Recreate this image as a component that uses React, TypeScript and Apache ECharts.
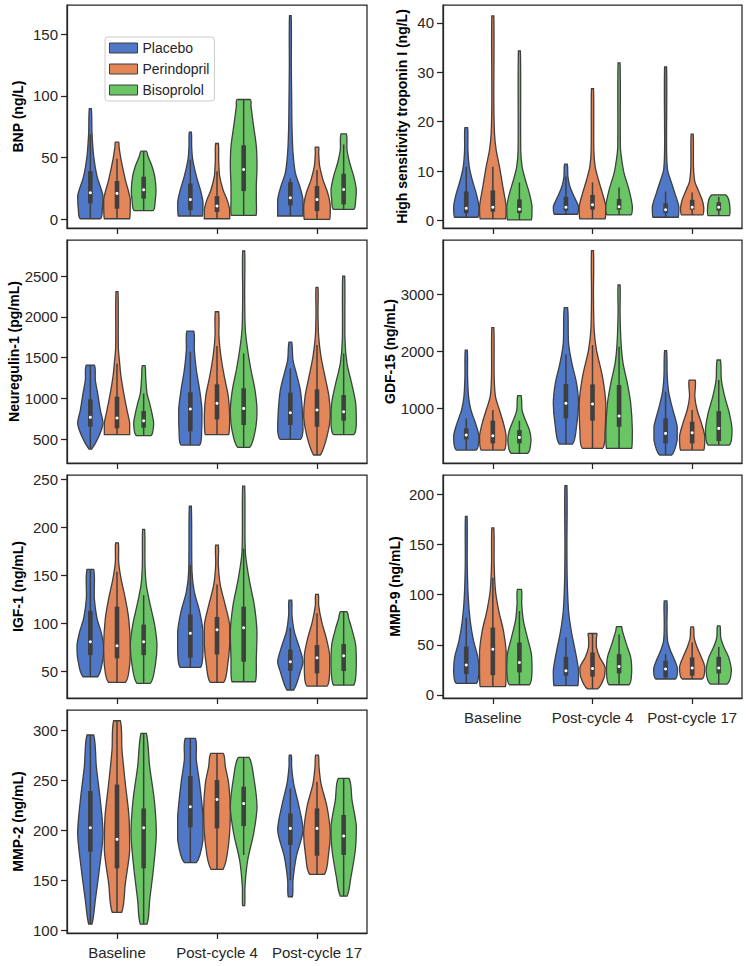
import React, { useEffect, useRef } from 'react';
import * as echarts from 'echarts';

const timepoints = ['Baseline', 'Post-cycle 4', 'Post-cycle 17'];
const treatments = ['Placebo', 'Perindopril', 'Bisoprolol'];
const treatmentColors = ['#4f78c8', '#e3865a', '#6ac665'];

// Violin outlines: [value, relative density 0..40], from data min to data max
// order: treatment -> timepoint
const bnpShapes = [
  [
    [[0.5, 30], [8, 36], [19, 38], [35, 20], [51, 10], [70, 5], [89.7, 3]],
    [[2.7, 36], [13.5, 38], [24, 30], [35, 18], [48.5, 7], [59, 4], [70.5, 3]],
    [[2.7, 38], [16, 38], [27, 28], [37.7, 15], [54, 8], [75, 5], [97, 4], [124, 3], [164.8, 2.5]],
  ],
  [
    [[0.5, 38], [16, 40], [32, 25], [48.5, 12], [59, 6], [62.5, 5]],
    [[0.5, 38], [8, 38], [16, 30], [24, 18], [35, 8], [48.5, 5], [61.4, 4]],
    [[0, 38], [10.8, 40], [21.5, 32], [32, 18], [43, 8], [54, 5], [58.4, 5]],
  ],
  [
    [[7, 28], [16, 35], [24, 37], [35, 33], [43, 25], [51, 13], [55.2, 8]],
    [[3.2, 37], [16, 38], [27, 38], [43, 40], [59, 38], [75, 30], [91.5, 22], [97, 20]],
    [[8, 30], [16, 36], [24, 38], [35, 30], [45.8, 18], [56.5, 10], [69.2, 8]],
  ],
];
// [whisker low, q1, median, q3, whisker high]
const bnpBoxes = [
  [[0.5, 12.9, 21.5, 39, 68.7], [2.7, 7.5, 16, 29, 48.5], [2.7, 11.3, 17.5, 30.2, 33]],
  [[0.5, 8.6, 21, 31, 49], [0.5, 5.9, 10.8, 18.8, 39], [0, 6.7, 16, 27, 40]],
  [[7, 16.7, 24, 34.5, 55.2], [3.2, 22.9, 40.4, 60, 97], [8, 12.1, 24.2, 36.9, 60.6]],
];

const tropShapes = [
  [
    [[0.67, 35], [2.8, 38], [5.5, 30], [8.2, 18], [10.9, 9], [14.3, 5], [18.8, 4]],
    [[1.28, 35], [2.8, 38], [4.8, 25], [6.9, 12], [8.9, 6], [11.4, 4]],
    [[0.67, 38], [2.8, 40], [5.5, 28], [8.2, 15], [10.2, 6], [14.3, 3], [31.1, 3]],
  ],
  [
    [[0.34, 38], [2.8, 40], [6.9, 30], [10.9, 20], [14.3, 10], [17.6, 5], [24.4, 3], [41.4, 3]],
    [[0.34, 38], [2.8, 40], [5.5, 30], [8.2, 18], [10.9, 8], [14.3, 4], [26.7, 3]],
    [[1.14, 32], [2.5, 35], [4.2, 30], [6.2, 18], [7.9, 8], [10.9, 4], [17.5, 3]],
  ],
  [
    [[0.13, 36], [2.8, 38], [5.5, 30], [8.2, 18], [10.9, 8], [14.3, 4], [34.3, 3]],
    [[1.14, 36], [2.8, 40], [6.2, 30], [9.6, 15], [12.3, 8], [14.9, 4], [31.9, 3]],
    [[1.0, 32], [2.2, 34], [4.2, 30], [5.2, 20]],
  ],
];
const tropBoxes = [
  [[0.67, 1.5, 2.5, 5.9, 10.9], [1.28, 2.0, 2.7, 4.8, 8.9], [0.67, 1.5, 2.2, 3.5, 5.9]],
  [[0.34, 1.8, 2.7, 6.1, 10.9], [0.34, 2.2, 3.2, 5.2, 7.7], [1.14, 2.2, 2.7, 4.2, 5.7]],
  [[0.13, 1.5, 2.3, 4.3, 7.7], [1.14, 2.2, 2.8, 4.4, 6.7], [1.0, 2.0, 2.7, 3.7, 4.8]],
];

const nrgShapes = [
  [
    [[377, 4], [529, 25], [692, 38], [856, 30], [1060, 22], [1224, 15], [1408, 12]],
    [[426, 28], [610, 34], [856, 35], [1101, 28], [1347, 18], [1592, 12], [1825, 10]],
    [[496, 30], [610, 38], [856, 36], [1101, 30], [1306, 18], [1469, 8], [1690, 4]],
  ],
  [
    [[553, 38], [692, 38], [856, 30], [1019, 22], [1265, 12], [1428, 8], [1633, 4], [2308, 3]],
    [[553, 35], [774, 38], [1019, 34], [1265, 22], [1510, 12], [1756, 6], [2062, 5]],
    [[304, 10], [529, 30], [774, 40], [1019, 36], [1265, 24], [1510, 12], [1756, 5], [2042, 3], [2361, 3]],
  ],
  [
    [[541, 22], [692, 30], [794, 26], [938, 18], [1060, 10], [1265, 6], [1400, 4]],
    [[398, 18], [610, 35], [856, 40], [1101, 34], [1347, 22], [1592, 12], [1837, 5], [2246, 3], [2807, 3]],
    [[553, 30], [692, 38], [938, 36], [1183, 24], [1428, 10], [1715, 4], [2500, 3]],
  ],
];
const nrgBoxes = [
  [[377, 651, 766, 987, 1408], [426, 594, 868, 1073, 1572], [496, 672, 823, 1069, 1367]],
  [[553, 631, 758, 1019, 1428], [553, 741, 938, 1171, 1641], [304, 651, 856, 1109, 1653]],
  [[541, 639, 725, 844, 1060], [398, 672, 876, 1122, 1551], [553, 725, 835, 1040, 1551]],
];

const gdfShapes = [
  [
    [[269, 30], [503, 38], [737, 28], [971, 14], [1205, 7], [1556, 4], [2023, 3]],
    [[374, 20], [737, 33], [1088, 38], [1439, 32], [1789, 18], [2140, 8], [2766, 5]],
    [[181, 18], [444, 35], [678, 35], [971, 22], [1263, 10], [1556, 5], [2012, 3]],
  ],
  [
    [[269, 35], [503, 40], [737, 32], [971, 20], [1205, 8], [1556, 4], [2415, 3]],
    [[298, 30], [620, 38], [1088, 40], [1556, 30], [2023, 12], [2374, 5], [2959, 3], [3766, 3]],
    [[269, 35], [503, 38], [737, 28], [971, 15], [1205, 8], [1497, 9]],
  ],
  [
    [[211, 25], [444, 35], [620, 30], [795, 18], [971, 8], [1222, 5]],
    [[298, 38], [620, 40], [1088, 35], [1439, 25], [1789, 12], [2140, 6], [2667, 3], [3164, 3]],
    [[357, 32], [620, 40], [912, 32], [1205, 18], [1497, 8], [1848, 5]],
  ],
];
const gdfBoxes = [
  [[269, 456, 532, 649, 825], [374, 825, 1088, 1427, 1947], [181, 386, 561, 825, 1292]],
  [[269, 386, 520, 784, 971], [298, 784, 1076, 1421, 2111], [269, 386, 573, 766, 971]],
  [[211, 386, 491, 620, 784], [298, 678, 865, 1409, 2082], [357, 427, 649, 953, 1497]],
];

const igfShapes = [
  [
    [[44.8, 22], [63.9, 38], [77.7, 40], [91.6, 32], [105.5, 20], [126, 12], [156.4, 10]],
    [[54.5, 30], [70.8, 38], [91.6, 38], [112.4, 28], [133, 12], [154, 5], [222, 3]],
    [[31, 10], [50, 30], [60.4, 38], [74.3, 28], [91.6, 12], [109, 5], [124.5, 4]],
  ],
  [
    [[38.9, 25], [56.9, 38], [77.7, 40], [105.5, 35], [126, 25], [147, 12], [164, 5], [184, 4]],
    [[38.9, 20], [56.9, 32], [77.7, 38], [98.5, 38], [119, 25], [140, 10], [161, 4], [181.7, 4]],
    [[35, 30], [50, 38], [67.3, 38], [84.7, 28], [102, 14], [119, 5], [130.4, 4]],
  ],
  [
    [[37.9, 20], [56.9, 35], [77.7, 40], [98.5, 33], [119, 20], [140, 8], [161, 4], [198, 3]],
    [[39.6, 35], [63.9, 38], [91.6, 40], [119, 32], [147, 16], [174.8, 5], [243, 3]],
    [[36, 30], [56.9, 38], [77.7, 36], [95, 24], [105.5, 15], [112.4, 10]],
  ],
];
const igfBoxes = [
  [[44.8, 67.3, 81.2, 113.4, 156.4], [54.5, 64.6, 89.9, 109.6, 161], [31, 51, 60.4, 73.2, 95.8]],
  [[38.9, 63.9, 77, 117.6, 154], [38.9, 68, 93.7, 107, 140.8], [35, 48.3, 64.6, 77.7, 110.7]],
  [[37.9, 67.3, 81.2, 99, 129.7], [39.6, 60.4, 95.8, 117.6, 178], [36, 50.7, 66.6, 78.8, 112.4]],
];

const mmp9Shapes = [
  [
    [[11.6, 30], [24.1, 38], [37.4, 35], [53.9, 22], [73.7, 12], [96.9, 6], [130, 3], [177.9, 2.5]],
    [[9.3, 36], [24.1, 38], [44, 28], [63.8, 16], [83.6, 8], [113.4, 4], [146.4, 3], [208.3, 3]],
    [[15.9, 30], [25.8, 36], [34, 28], [44, 15], [53.9, 6], [70.4, 4], [93.6, 4]],
  ],
  [
    [[8.3, 38], [24.1, 40], [44, 40], [63.8, 32], [83.6, 18], [103.5, 8], [130, 4], [166.3, 3]],
    [[6, 15], [17.5, 35], [27.4, 38], [37.4, 22], [47.3, 12], [57.2, 12], [61.2, 13]],
    [[15.9, 30], [27.4, 38], [37.4, 28], [47.3, 15], [57.2, 6], [67.8, 4]],
  ],
  [
    [[10.2, 30], [24.1, 38], [40.7, 36], [57.2, 24], [73.7, 12], [90.2, 7], [105.1, 6]],
    [[10.2, 30], [24.1, 38], [37.4, 35], [50.6, 22], [63.8, 10], [68.1, 7]],
    [[10.9, 25], [24.1, 38], [37.4, 30], [47.3, 16], [57.2, 6], [68.8, 4]],
  ],
];
const mmp9Boxes = [
  [[11.6, 20.8, 29.8, 48.3, 77], [9.3, 19.2, 24.1, 38, 57.2], [15.9, 17.5, 25.8, 34, 40.7]],
  [[8.3, 19.8, 45.6, 67.1, 116.7], [6, 18.2, 26.4, 42.3, 61.2], [15.9, 19.2, 26.8, 37.4, 52.2]],
  [[10.2, 22.5, 32.4, 52.2, 83.6], [10.2, 21.5, 28.4, 40.7, 60.5], [10.9, 21.5, 26.8, 38, 47.9]],
];

const mmp2Shapes = [
  [
    [[106, 5], [130, 15], [163.5, 28], [197, 38], [230, 30], [264, 18], [295.7, 10]],
    [[167.6, 18], [190.3, 38], [213.7, 38], [247, 28], [270.6, 18], [292.3, 15]],
    [[133.4, 6], [150, 8], [173.6, 18], [200.3, 38], [227, 24], [247, 10], [263.9, 4], [275.6, 3]],
  ],
  [
    [[117.7, 14], [146.8, 25], [180, 38], [213.7, 36], [247, 25], [280.6, 15], [310, 10]],
    [[160.9, 18], [187, 35], [220.4, 40], [247, 35], [263.9, 25], [277.3, 18]],
    [[155.9, 22], [177, 35], [197, 40], [223.7, 30], [247, 12], [263.9, 6], [275.6, 4]],
  ],
  [
    [[106, 10], [130, 18], [163.5, 30], [197, 38], [230, 32], [264, 18], [297.3, 8]],
    [[124.4, 3], [143.5, 4], [170, 12], [197, 30], [223.7, 40], [253.8, 30], [273.2, 16]],
    [[134, 10], [153.5, 22], [180.3, 35], [203.7, 38], [230.4, 25], [252.2, 16]],
  ],
];
const mmp2Boxes = [
  [[106, 178.6, 202.7, 239.5, 295.7], [167.6, 203, 223.7, 254.5, 292.3], [150, 185.3, 202, 217, 242]],
  [[117.7, 161.9, 191, 246, 310], [160.9, 202, 231, 250.5, 277.3], [155.9, 174.6, 202, 222, 248.8]],
  [[106, 161.9, 202.7, 222, 297.3], [175.3, 204.3, 227, 243.8, 273.2], [134, 175.3, 194.3, 215.4, 252.2]],
];

const bnpTicks = [0, 50, 100, 150];
const tropTicks = [0, 10, 20, 30, 40];
const nrgTicks = [500, 1000, 1500, 2000, 2500];
const gdfTicks = [1000, 2000, 3000];
const igfTicks = [50, 100, 150, 200, 250];
const mmp9Ticks = [0, 50, 100, 150, 200];
const mmp2Ticks = [100, 150, 200, 250, 300];

const FONT = '"Liberation Sans", Arial, Helvetica, sans-serif';
const INK = '#262626';
const EDGE = '#3f3f3f';

const panels = [
  { name: 'BNP (ng/L)', shapes: bnpShapes, boxes: bnpBoxes, ticks: bnpTicks, min: -7, max: 173.5, left: 67, width: 300, top: 5, gap: 42, xl: false },
  { name: 'High sensitivity troponin I (ng/L)', shapes: tropShapes, boxes: tropBoxes, ticks: tropTicks, min: -1.5, max: 43.6, left: 443, width: 299, top: 5, gap: 34, xl: false },
  { name: 'Neuregulin-1 (pg/mL)', shapes: nrgShapes, boxes: nrgBoxes, ticks: nrgTicks, min: 206, max: 2942, left: 67, width: 300, top: 240, gap: 42, xl: false },
  { name: 'GDF-15 (ng/mL)', shapes: gdfShapes, boxes: gdfBoxes, ticks: gdfTicks, min: 42, max: 3953, left: 443, width: 299, top: 240, gap: 43, xl: false },
  { name: 'IGF-1 (ng/mL)', shapes: igfShapes, boxes: igfBoxes, ticks: igfTicks, min: 22.7, max: 254.5, left: 67, width: 300, top: 475, gap: 42, xl: false },
  { name: 'MMP-9 (ng/mL)', shapes: mmp9Shapes, boxes: mmp9Boxes, ticks: mmp9Ticks, min: -3, max: 219, left: 443, width: 299, top: 475, gap: 41, xl: true },
  { name: 'MMP-2 (ng/mL)', shapes: mmp2Shapes, boxes: mmp2Boxes, ticks: mmp2Ticks, min: 97, max: 320.8, left: 67, width: 300, top: 710, gap: 42, xl: true },
];
const PANEL_H = 223;

function makeRender(shapes: number[][][][], boxes: number[][][], hue: number, color: string) {
  return (params: any, api: any) => {
    const t = params.dataIndex;
    const band = api.size([1, 0])[0];
    const vw = (band * 0.8) / 3;
    const cx = api.coord([t, 0])[0] + (hue - 1) * vw;
    const half = vw / 2;
    const y = (v: number) => api.coord([t, v])[1];
    const prof = shapes[hue][t];
    const right = prof.map(([v, d]) => [cx + (d / 40) * half, y(v)]);
    const left = prof
      .slice()
      .reverse()
      .map(([v, d]) => [cx - (d / 40) * half, y(v)]);
    const pts = right.concat(left);
    let x0 = Infinity, y0 = Infinity, x1 = -Infinity, y1 = -Infinity;
    pts.forEach(([px, py]) => {
      x0 = Math.min(x0, px); x1 = Math.max(x1, px);
      y0 = Math.min(y0, py); y1 = Math.max(y1, py);
    });
    const [lo, q1, med, q3, hi] = boxes[hue][t];
    return {
      type: 'group',
      children: [
        {
          type: 'polygon',
          shape: { points: pts, smooth: 0.3, smoothConstraint: [[x0, y0], [x1, y1]] },
          style: { fill: color, stroke: EDGE, lineWidth: 1.3 },
        },
        {
          type: 'line',
          shape: { x1: cx, y1: y(lo), x2: cx, y2: y(hi) },
          style: { stroke: EDGE, lineWidth: 1.5 },
        },
        {
          type: 'rect',
          shape: { x: cx - 2.3, y: y(q3), width: 4.6, height: y(q1) - y(q3) },
          style: { fill: EDGE },
        },
        {
          type: 'circle',
          shape: { cx: cx, cy: y(med), r: 1.5 },
          style: { fill: '#ffffff' },
        },
      ],
    };
  };
}

export default function App() {
  const ref = useRef<HTMLDivElement>(null);
  useEffect(() => {
    document.body.style.margin = '0';
    if (!ref.current) return;
    const chart = echarts.init(ref.current, undefined, { renderer: 'svg' });
    const grid: any[] = [];
    const xAxis: any[] = [];
    const yAxis: any[] = [];
    const series: any[] = [];
    panels.forEach((p, i) => {
      grid.push({
        left: p.left,
        top: p.top,
        width: p.width,
        height: PANEL_H,
        show: true,
        borderColor: INK,
        borderWidth: 1.25,
        backgroundColor: 'transparent',
      });
      xAxis.push({
        type: 'category',
        gridIndex: i,
        position: 'bottom',
        data: timepoints,
        boundaryGap: true,
        axisLine: { show: true, onZero: false, lineStyle: { color: INK, width: 1.25 } },
        axisTick: { show: true, alignWithLabel: true, interval: 0, length: 6, lineStyle: { color: INK, width: 1.25 } },
        axisLabel: { show: p.xl, interval: 0, fontSize: 15, color: INK, fontFamily: FONT, margin: 12 },
        splitLine: { show: false },
      });
      yAxis.push({
        type: 'value',
        gridIndex: i,
        min: p.min,
        max: p.max,
        name: p.name,
        nameLocation: 'middle',
        nameRotate: 90,
        nameGap: p.gap,
        nameTextStyle: { fontSize: 14, fontWeight: 'bold', color: '#000', fontFamily: FONT },
        axisLine: { show: true, onZero: false, lineStyle: { color: INK, width: 1.25 } },
        axisTick: { show: true, length: 6, lineStyle: { color: INK, width: 1.25 }, customValues: p.ticks },
        axisLabel: {
          fontSize: 15,
          color: INK,
          fontFamily: FONT,
          margin: 9,
          customValues: p.ticks,
          formatter: (v: number) => String(Math.round(v)),
        },
        splitLine: { show: false },
      });
      treatments.forEach((tr, h) => {
        series.push({
          type: 'custom',
          name: tr,
          xAxisIndex: i,
          yAxisIndex: i,
          itemStyle: { color: treatmentColors[h] },
          renderItem: makeRender(p.shapes, p.boxes, h, treatmentColors[h]),
          encode: { x: 0, y: [1, 2] },
          data: timepoints.map((_, t) => {
            const prof = p.shapes[h][t];
            return [t, prof[0][0], prof[prof.length - 1][0]];
          }),
          clip: false,
        });
      });
    });
    chart.setOption({
      animation: false,
      backgroundColor: '#ffffff',
      textStyle: { fontFamily: FONT },
      grid,
      xAxis,
      yAxis,
      series,
      legend: {
        data: treatments,
        orient: 'vertical',
        left: 105,
        top: 37,
        itemWidth: 28,
        itemHeight: 10,
        itemGap: 7,
        icon: 'rect',
        padding: [4, 5, 4, 4],
        backgroundColor: '#ffffff',
        borderColor: '#cccccc',
        borderWidth: 1,
        borderRadius: 3,
        itemStyle: { borderColor: EDGE, borderWidth: 1 },
        textStyle: { fontSize: 14, color: INK, fontFamily: FONT },
      },
    });
    return () => chart.dispose();
  }, []);
  return <div ref={ref} style={{ width: 750, height: 966 }} />;
}
